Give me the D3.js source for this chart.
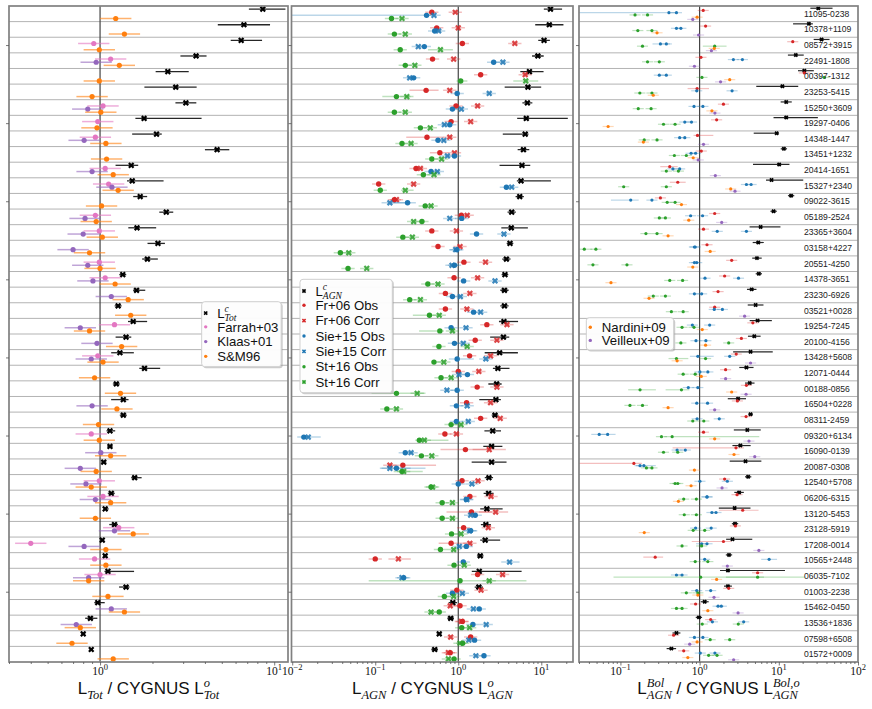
<!DOCTYPE html>
<html>
<head>
<meta charset="utf-8">
<script src="https://cdn.jsdelivr.net/npm/d3@7"></script>
<style>
  body { margin: 0; background: #fff; }
  text { font-family: "Liberation Sans", Arial, sans-serif; }
</style>
</head>
<body>
<svg id="chart" width="872" height="709"></svg>
<script>
// ---- data ----
// each entry: value, [value, err], [value, errLo, errHi]; errors in dex, null = no point
const galaxies = ["11095-0238","10378+1109","08572+3915","22491-1808","00397-1312","23253-5415",
  "15250+3609","19297-0406","14348-1447","13451+1232","20414-1651","15327+2340","09022-3615",
  "05189-2524","23365+3604","03158+4227","20551-4250","14378-3651","23230-6926","03521+0028",
  "19254-7245","20100-4156","13428+5608","12071-0444","00188-0856","16504+0228","08311-2459",
  "09320+6134","16090-0139","20087-0308","12540+5708","06206-6315","13120-5453","23128-5919",
  "17208-0014","10565+2448","06035-7102","01003-2238","15462-0450","13536+1836","07598+6508",
  "01572+0009"];

// panel 1: L_Tot / CYGNUS L_Tot
const totC = [[8.6,.08,.13],[6.7,.15],[6.46,.06,.12],[3.56,.09,.06],[2.45,.07,.12],[2.72,.18,.12],
  [3.11,.06],[1.79,.05,.33],[2.11,.14,.03],[4.7,.07],[1.51,.09,.04],[1.53,.03,.18],[1.70,.04],
  [2.40,.04],[1.63,.05,.11],[2.15,.06,.04],[1.87,.03,.06],[1.35,.02],[1.62,.02,.05],[1.27,.02],
  [1.55,.03,.08],[1.41,.06,.03],[1.30,.05,.08],[1.80,.03,.09],[1.24,.02],[1.36,.07,.03],[1.36,.02],
  [1.14,.02,.03],[1.14,.015],[1.05,.015],[1.58,.02,.04],[1.16,.02],[1.07,.01,.02],[1.21,.03,.02],
  [1.03,.012],[1.07,.012],[1.11,.02,.15],[1.41,.04,.02],[0.97,.02,.04],[0.88,.03,.04],[0.80,.013],[0.89,.01]];
const farrah03 = [null,null,0.92,1.15,null,null,1.04,0.97,0.94,null,1.07,1.12,null,0.94,0.99,null,
  0.99,1.07,null,null,1.21,null,0.97,null,null,null,null,0.89,null,null,0.99,1.04,null,1.28,0.40,
  0.93,1.00,null,null,null,null,null];
const klaas01 = [null,null,null,0.95,null,null,0.85,null,0.81,null,0.90,1.17,null,0.82,0.80,0.70,
  0.85,0.91,1.16,null,0.77,0.96,0.89,null,null,0.90,null,null,1.01,0.77,0.83,0.94,null,1.21,0.81,
  null,0.86,null,1.16,0.73,null,null];
const sm96 = [1.23,1.38,0.99,1.29,0.99,0.90,1.01,0.96,1.08,1.09,1.19,1.27,1.02,0.95,1.03,0.87,1.00,
  1.22,1.45,1.50,0.87,1.33,1.04,0.93,1.31,1.25,0.98,0.99,1.15,0.95,0.89,1.15,0.94,1.55,1.08,1.08,
  0.86,1.11,1.38,0.77,0.69,1.19];

// panel 2: L_AGN / CYGNUS L_AGN
const agnC = [[12.9,.08,.14],[12.5,.17],[10.8,.07],[9.1,.07],[7.2,.11,.17],[6.9,.28,.16],[6.8,.06],
  [6.6,.11,.5],[6.4,.27,.04],[6.1,.07],[5.85,.27,.1],[5.7,.05,.36],[5.5,.05],[4.4,.05],[4.35,.12,.2],
  [4.2,.04],[3.8,.05],[3.65,.04],[3.6,.05],[3.6,.05],[3.55,.06,.17],[3.5,.16,.07],[3.15,.18,.22],
  [3.0,.06,.14],[2.9,.1,.06],[2.84,.2,.06],[2.77,.04],[2.6,.1],[2.52,.1,.13],[2.52,.24,.18],[2.34,.05],
  [2.32,.06],[2.21,.08,.19],[2.15,.06],[2.11,.06,.18],[1.84,.04],[1.79,.09,.51],[1.77,.05],[0.86,.05],
  [0.81,.04],[0.59,.03],[0.52,.04]];
const fr06Obs = [0.48,0.55,1.12,0.49,1.86,[0.41,.2,.15],0.94,0.82,[0.42,.25,.2],[0.60,.12,.1],0.31,0.11,0.17,
  1.09,0.48,0.57,1.17,0.89,0.70,0.70,2.21,1.60,1.37,1.0,1.69,1.26,1.86,0.69,[1.22,.3,.3],[0.215,.15,.4],
  1.11,1.38,[1.44,.3,.25],1.16,[0.82,.15,.2],0.10,1.71,0.96,1.05,1.12,1.41,0.80];
const fr06Corr = [0.92,1.0,4.8,0.88,6.4,0.79,1.71,1.41,0.79,0.90,0.35,0.29,0.18,1.28,0.95,1.05,2.13,
  1.71,1.38,1.27,3.86,2.92,2.45,1.77,2.92,2.45,3.2,0.95,[2.36,.2,.2],0.15,1.73,2.48,[2.82,.2,.15],2.3,
  1.38,[0.19,.12,.15],3.42,1.88,0.80,1.09,0.81,0.76];
const sie15Obs = [[0.415,1.7,.08],0.52,0.39,2.67,0.29,0.97,0.85,0.79,0.57,0.90,0.47,3.8,[0.245,.2,.1],
  1.10,1.66,0.96,0.90,1.16,0.85,1.53,0.82,0.90,[0.97,.1,.2],1.29,0.97,0.95,0.95,0.0138,0.23,
  [0.18,.2,.35],1.0,1.25,1.60,1.41,1.25,1.15,0.22,0.85,1.79,1.50,1.57,2.04];
const sie15Corr = [0.51,0.58,0.33,3.45,0.26,2.36,1.09,0.68,0.67,0.74,0.56,4.4,[0.15,.1,.25],0.79,
  3.55,0.93,0.84,2.77,1.06,1.86,1.24,1.15,2.15,1.02,0.73,1.28,1.32,[0.0156,.05,.15],0.27,[0.15,.1,.25],1.46,1.27,
  1.41,1.37,1.03,[4.15,.1,.12],0.21,1.12,1.52,2.17,1.34,1.63];
const st16Obs = [0.157,0.17,0.20,0.23,[1.07,.05,.08],[0.18,.17],0.17,0.35,0.21,0.48,0.38,0.115,0.40,
  0.365,0.215,0.038,0.047,0.43,0.26,[0.45,.2,.1],[0.60,.25,.05],0.585,[0.51,.03,.1],0.62,[0.18,.3,.35],
  0.138,0.82,[0.34,.05,.35],0.36,[0.21,.1,.25],0.47,0.64,0.64,0.83,0.61,0.89,[1.05,1.1,.8],0.68,0.59,
  1.10,1.13,0.89];
const st16Corr = [0.21,0.23,[0.61,.15],0.30,[6.5,.15],0.24,0.23,0.46,0.27,0.63,0.51,[0.23,.05,.1],0.47,
  0.29,0.28,0.048,0.079,0.57,0.35,0.59,0.85,1.28,0.67,0.82,0.32,0.18,1.08,0.39,0.48,0.22,0.49,0.85,
  0.85,1.08,0.88,1.18,2.36,0.88,0.47,1.37,1.05,0.76];

// panel 3: L^Bol_AGN / CYGNUS L^Bol_AGN
const bolC = [[31.5,.1,.18],[24,.2,.05],[34.7,.1],[16.4,.1],[21,.08,.12],[11.1,.33,.2],[12.4,.07],
  [12.4,.16,.4],[9.4,.29,.03],[11.6,.04],[10.1,.33,.13],[8.1,.07,.4],[14.3,.04],[8.6,.04],[5.9,.14,.25],
  [5.5,.07],[5.3,.06],[5.6,.04],[4.55,.06],[5.1,.1],[5.4,.1,.18],[4.9,.08],[4.4,.22,.28],[3.9,.09],
  [4.3,.06],[3.06,.13,.1],[4.4,.03],[4.0,.17],[3.27,.1,.13],[3.8,.2],[4.1,.04],[3.15,.06],[2.77,.2],
  [2.8,.04],[2.6,.08,.25],[2.35,.04],[2.28,.1,.72],[2.28,.05],[1.16,.05],[0.98,.04],[0.51,.05],[0.44,.06]];
const bolFr06 = [1.11,1.19,15,1.04,21,[0.93,.12,.15],2.0,1.64,[0.94,.05,.2],1.05,[0.42,.12,.1],[0.53,.1],0.32,1.55,
  1.12,1.24,2.54,2.07,1.71,1.55,4.7,3.37,2.9,2.13,3.9,3.0,3.86,1.12,[2.88,.8,.1],[0.148,1.0,.1],2.07,
  2.97,[3.5,.3,.2],2.83,[2.0,.4,.1],[0.275,.15,.1],5.4,2.33,0.89,1.38,0.47,0.63];
const bolSie15Obs = [[0.41,1.4,.08],0.51,[0.32,.1,.12],2.67,0.31,0.92,0.85,0.65,0.56,0.78,0.46,3.9,
  [0.135,.25,.1],0.77,1.67,0.86,0.86,1.17,0.86,1.53,0.81,0.90,[0.95,.1,.2],1.01,0.72,0.92,0.93,
  [0.054,.1],0.52,0.177,1.01,1.24,1.43,0.89,1.06,1.16,0.51,0.92,1.71,1.45,0.86,1.02];
const bolSie15Corr = [0.51,0.58,0.38,3.47,0.38,2.57,1.1,0.79,0.65,0.89,0.56,4.47,0.25,1.09,3.9,0.88,
  0.92,3.1,1.06,1.94,1.34,1.20,2.4,1.27,0.95,1.26,1.77,[0.069,.1],0.66,[0.198,.1,.15],2.24,1.24,1.61,1.40,
  1.24,[7.55,.1],0.60,1.38,1.88,3.6,1.1,1.56];
const bolSt16Obs = [0.153,0.166,0.19,0.22,1.07,0.176,0.168,0.35,0.20,0.48,0.38,0.11,0.39,0.37,0.21,
  [0.035,.1],0.045,0.42,0.26,0.44,0.60,0.58,[0.51,.1,.15],0.62,[0.177,.15,.2],0.132,0.82,0.33,0.35,0.213,
  0.49,0.63,0.64,0.83,0.60,0.88,[1.03,1.1,.8],0.68,0.51,1.08,1.36,1.3];
const bolSt16Corr = [0.22,0.25,[1.55,.15],0.31,37.5,0.25,0.244,0.49,0.29,0.68,0.54,0.38,0.49,0.31,
  0.29,0.049,0.121,0.61,0.37,0.62,0.85,2.33,1.19,0.88,[0.59,.2,.1],0.19,1.13,[0.45,.1,1.1],0.53,0.25,
  0.53,0.91,0.91,1.16,1.06,1.27,[5.4,.4,.6],0.95,0.60,3.08,2.4,1.66];
const nardini09 = [0.93,0.29,1.53,null,2.4,0.26,1.43,0.070,0.195,0.83,null,2.47,0.59,0.73,0.40,1.36,
  0.82,0.076,0.23,null,1.08,1.19,0.52,1.05,2.54,0.40,null,1.55,2.72,0.86,0.78,0.54,null,0.20,null,
  null,1.64,0.95,1.27,null,0.93,0.71];
const veilleux09 = [0.82,0.97,1.41,0.86,1.84,null,1.56,null,1.12,0.96,1.58,2.8,null,1.9,null,null,
  null,null,null,3.7,null,null,4.4,2.13,3.86,1.55,null,4.2,4.97,null,1.92,null,null,null,5.6,2.24,
  null,1.52,3.06,null,0.75,2.69];

// ---- layout ----
const plotTop = 6, plotBottom = 662;
const svg = d3.select("#chart");
const rows = d3.scaleBand().domain(d3.range(galaxies.length)).range([plotTop, plotBottom]);

const C = {black: "#000", pink: "#e377c2", purple: "#9467bd", orange: "#ff7f0e",
           red: "#d62728", blue: "#1f77b4", green: "#2ca02c"};

function pt(d, def) {
  if (d == null) return null;
  if (typeof d === "number") return {v: d, lo: def, hi: def};
  if (d.length === 2) return {v: d[0], lo: d[1], hi: d[1]};
  return {v: d[0], lo: d[1], hi: d[2]};
}

// text with math-like sub/superscripts
const serif = "'Liberation Serif', 'DejaVu Serif', serif";
function rich(t, pieces, base, small) {
  let off = 0, pend = 0;
  pieces.forEach(p => {
    if (typeof p === "string") {
      t.append("tspan").attr("dy", -off).attr("dx", pend).attr("font-size", base).text(p);
      off = 0; pend = 0;
      return;
    }
    let supLen = 0, subLen = 0;
    const it = p.upright ? "normal" : "italic";
    if (p.sup) {
      const target = -base * 0.42;
      const s = t.append("tspan").attr("dy", target - off).attr("dx", pend)
        .attr("font-size", small).attr("font-family", serif).attr("font-style", it).text(p.sup);
      off = target; pend = 0;
      supLen = s.node().getComputedTextLength();
    }
    if (p.sub) {
      const target = base * 0.28;
      const s = t.append("tspan").attr("dy", target - off).attr("dx", p.sup ? -supLen : pend)
        .attr("font-size", small).attr("font-family", serif).attr("font-style", it).text(p.sub);
      off = target; pend = 0;
      subLen = s.node().getComputedTextLength();
      if (p.sup && supLen > subLen) pend = supLen - subLen;
    }
  });
}

const xShape = size => d3.symbol().type(d3.symbolX).size(size)();

const panels = [
  { x0: 9, x1: 288, domain: [0.3, 12], nLev: 4,
    title: ["L", {sub: "Tot"}, " / CYGNUS L", {sup: "o", sub: "Tot"}],
    series: [
      {data: totC, color: C.black, shape: "x", level: 0, err: .05},
      {data: farrah03, color: C.pink, shape: "o", level: 1, err: .09},
      {data: klaas01, color: C.purple, shape: "o", level: 2, err: .09},
      {data: sm96, color: C.orange, shape: "o", level: 3, err: .09}],
    sty: {r: 2.6, xs: 16, sw: 2.2, ew: 1.5, eop: .6, lw: 1.3},
    legend: {x: 201.7, y: 301.7, w: 79.5, h: 65, items: [
      {label: ["L", {sup: "c", sub: "Tot"}], color: C.black, shape: "x"},
      {label: ["Farrah+03"], color: C.pink, shape: "o"},
      {label: ["Klaas+01"], color: C.purple, shape: "o"},
      {label: ["S&M96"], color: C.orange, shape: "o"}]} },
  { x0: 291.5, x1: 573, domain: [0.0098, 24.1], nLev: 4,
    title: ["L", {sub: "AGN"}, " / CYGNUS L", {sup: "o", sub: "AGN"}],
    series: [
      {data: agnC, color: C.black, shape: "x", level: 0, err: .05},
      {data: fr06Obs, color: C.red, shape: "o", level: 1, err: .08},
      {data: fr06Corr, color: C.red, shape: "x", level: 1, err: .08},
      {data: sie15Obs, color: C.blue, shape: "o", level: 2, err: .08},
      {data: sie15Corr, color: C.blue, shape: "x", level: 2, err: .08},
      {data: st16Obs, color: C.green, shape: "o", level: 3, err: .08},
      {data: st16Corr, color: C.green, shape: "x", level: 3, err: .08}],
    sty: {r: 2.7, xs: 16, sw: 2.2, ew: 1.5, eop: .3, lw: 1.3},
    legend: {x: 300, y: 279.3, w: 92.3, h: 113.4, items: [
      {label: ["L", {sup: "c", sub: "AGN"}], color: C.black, shape: "x"},
      {label: ["Fr+06 Obs"], color: C.red, shape: "o"},
      {label: ["Fr+06 Corr"], color: C.red, shape: "x"},
      {label: ["Sie+15 Obs"], color: C.blue, shape: "o"},
      {label: ["Sie+15 Corr"], color: C.blue, shape: "x"},
      {label: ["St+16 Obs"], color: C.green, shape: "o"},
      {label: ["St+16 Corr"], color: C.green, shape: "x"}]} },
  { x0: 579, x1: 858, domain: [0.03, 100], nLev: 6,
    title: ["L", {sup: "Bol", sub: "AGN"}, " / CYGNUS L", {sup: "Bol,o", sub: "AGN"}],
    series: [
      {data: bolC, color: C.black, shape: "x", level: 0, err: .05},
      {data: bolFr06, color: C.red, shape: "o", level: 1, err: .07},
      {data: bolSie15Obs, color: C.blue, shape: "o", level: 2, err: .07},
      {data: bolSie15Corr, color: C.blue, shape: "o", level: 2, err: .07},
      {data: bolSt16Obs, color: C.green, shape: "o", level: 3, err: .07},
      {data: bolSt16Corr, color: C.green, shape: "o", level: 3, err: .07},
      {data: nardini09, color: C.orange, shape: "o", level: 4, err: .07},
      {data: veilleux09, color: C.purple, shape: "o", level: 5, err: .07}],
    sty: {r: 1.6, xs: 8, sw: 1.8, ew: 1.2, eop: .3, lw: 1.2},
    legend: {x: 586.3, y: 317.7, w: 87.4, h: 32.3, items: [
      {label: ["Nardini+09"], color: C.orange, shape: "o"},
      {label: ["Veilleux+09"], color: C.purple, shape: "o"}]} }
];

panels.forEach((p, pi) => {
  const x = d3.scaleLog().domain(p.domain).range([p.x0, p.x1]);
  const g = svg.append("g");

  svg.append("clipPath").attr("id", "clip" + pi).append("rect")
    .attr("x", p.x0).attr("y", plotTop).attr("width", p.x1 - p.x0).attr("height", plotBottom - plotTop);

  // row separators
  g.append("g").selectAll("line").data(d3.range(1, galaxies.length)).join("line")
    .attr("x1", p.x0).attr("x2", p.x1)
    .attr("y1", i => rows(i)).attr("y2", i => rows(i))
    .attr("stroke", "#b3b3b3").attr("stroke-width", 1);

  // reference line at 1
  g.append("line").attr("x1", x(1)).attr("x2", x(1)).attr("y1", plotTop).attr("y2", plotBottom)
    .attr("stroke", "#444").attr("stroke-width", 1.2);

  const marks = g.append("g").attr("clip-path", `url(#clip${pi})`);
  const s0 = p.sty;
  p.series.forEach(s => {
    const pts = s.data.map((d, i) => {
      const q = pt(d, s.err);
      if (q) q.i = i;
      return q;
    }).filter(Boolean);
    const yOf = q => rows(q.i) + rows.bandwidth() * (s.level + 1) / (p.nLev + 1);
    const black = s.color === C.black;

    marks.append("g").selectAll("line").data(pts).join("line")
      .attr("x1", q => x(Math.max(q.v / Math.pow(10, q.lo), 1e-4)))
      .attr("x2", q => x(q.v * Math.pow(10, q.hi)))
      .attr("y1", yOf).attr("y2", yOf)
      .attr("stroke", s.color)
      .attr("stroke-width", black ? s0.lw : s0.ew)
      .attr("stroke-opacity", black ? 0.85 : s0.eop);

    if (s.shape === "o") {
      marks.append("g").selectAll("circle").data(pts).join("circle")
        .attr("cx", q => x(q.v)).attr("cy", yOf).attr("r", s0.r)
        .attr("fill", s.color);
    } else {
      marks.append("g").selectAll("path").data(pts).join("path")
        .attr("transform", q => `translate(${x(q.v)},${yOf(q)})`)
        .attr("d", xShape(s0.xs))
        .attr("fill", "none").attr("stroke", s.color).attr("stroke-width", s0.sw)
        .attr("stroke-opacity", black ? 1 : 0.85);
    }
  });

  // frame
  g.append("rect").attr("x", p.x0).attr("y", plotTop)
    .attr("width", p.x1 - p.x0).attr("height", plotBottom - plotTop)
    .attr("fill", "none").attr("stroke", "#808080").attr("stroke-width", 1.7);

  // x axis: majors + minors
  const k0 = Math.ceil(Math.log10(p.domain[0]) - 1e-9), k1 = Math.floor(Math.log10(p.domain[1]));
  const majors = d3.range(k0, k1 + 1);
  const minors = [];
  d3.range(k0 - 1, k1 + 1).forEach(k => d3.range(2, 10).forEach(m => {
    const v = m * Math.pow(10, k);
    if (v >= p.domain[0] && v <= p.domain[1]) minors.push(v);
  }));
  const axMaj = g.append("g").attr("transform", `translate(0,${plotBottom})`)
    .call(d3.axisBottom(x).tickValues(majors.map(k => Math.pow(10, k))).tickSize(3.5).tickFormat(""));
  const axMin = g.append("g").attr("transform", `translate(0,${plotBottom})`)
    .call(d3.axisBottom(x).tickValues(minors).tickSize(2).tickFormat(""));
  [axMaj, axMin].forEach(a => {
    a.select(".domain").remove();
    a.selectAll(".tick line").attr("stroke", "#555").attr("stroke-width", 0.8);
  });
  majors.forEach(k => {
    const t = g.append("text").attr("x", x(Math.pow(10, k))).attr("y", plotBottom + 13)
      .attr("text-anchor", "middle").attr("font-family", serif).attr("fill", "#111");
    rich(t, ["10", {sup: k < 0 ? "\u2212" + (-k) : String(k), upright: true}], 11.5, 8.5);
    t.selectAll("tspan").attr("font-family", serif);
  });

  // y ticks
  const yTicks = d3.range(2, galaxies.length, 5);
  g.append("g").attr("transform", `translate(${p.x0},0)`)
    .call(d3.axisLeft(d3.scaleLinear().domain([0, galaxies.length]).range([plotTop, plotBottom]))
      .tickValues(yTicks.map(i => i + 0.5)).tickSize(3).tickFormat(""))
    .call(a => a.select(".domain").remove())
    .call(a => a.selectAll(".tick line").attr("stroke", "#555").attr("stroke-width", 0.8));

  // title
  const tt = g.append("text").attr("x", (p.x0 + p.x1) / 2).attr("y", 694)
    .attr("text-anchor", "middle").attr("fill", "#111");
  rich(tt, p.title, 17, 12.5);

  // legend
  const L = p.legend;
  const lg = svg.append("g");
  lg.append("rect").attr("x", L.x + 1.5).attr("y", L.y + 1.5).attr("width", L.w).attr("height", L.h)
    .attr("rx", 3).attr("fill", "#999").attr("fill-opacity", 0.5);
  lg.append("rect").attr("x", L.x).attr("y", L.y).attr("width", L.w).attr("height", L.h)
    .attr("rx", 3).attr("fill", "#fff").attr("fill-opacity", 0.95)
    .attr("stroke", "#cfcfcf").attr("stroke-width", 1);
  const lstep = (L.h - 6) / L.items.length;
  L.items.forEach((it, j) => {
    const cy = L.y + 3 + lstep * (j + 0.5) + (j === 0 && it.label.length > 1 ? 1 : 0);
    const mx = L.x + 4;
    if (it.shape === "o") {
      lg.append("circle").attr("cx", mx).attr("cy", cy).attr("r", 1.7).attr("fill", it.color);
    } else {
      lg.append("path").attr("transform", `translate(${mx},${cy})`).attr("d", xShape(8))
        .attr("fill", "none").attr("stroke", it.color).attr("stroke-width", 1.6);
    }
    const t = lg.append("text").attr("x", L.x + 15.5).attr("y", cy + 4.7)
      .attr("fill", "#111");
    rich(t, it.label, 13.2, 9.5);
  });
});

// galaxy names on the right panel
svg.append("g").selectAll("text").data(galaxies).join("text")
  .attr("x", 804).attr("y", (d, i) => rows(i) + rows.bandwidth() / 2 + 3)
  .attr("font-size", 8.6).attr("fill", "#222")
  .text(d => d);
</script>
</body>
</html>
